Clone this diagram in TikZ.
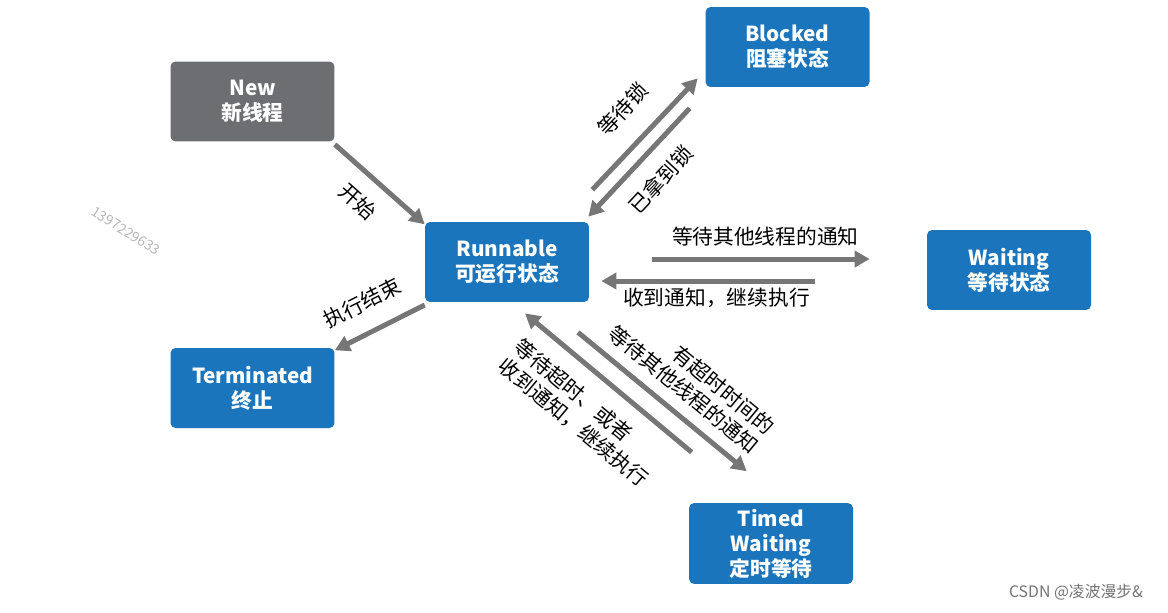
\documentclass[tikz,border=0pt]{standalone}
\usepackage{fontspec}
\setmainfont{Noto Sans CJK SC}
\usetikzlibrary{arrows.meta, positioning}

\definecolor{stateblue}{RGB}{27,117,188}
\definecolor{newgray}{RGB}{109,110,113}
\definecolor{arrowgray}{RGB}{118,118,118}

\begin{document}
\begin{tikzpicture}[x=0.02cm, y=-0.02cm, >={Triangle[length=0.3cm, width=0.32cm]},
    thread/.style={fill=stateblue, rounded corners=0.1cm, minimum width=3.28cm, minimum height=1.6cm,
        align=center, text=white, font=\fontsize{11.8}{14.2}\selectfont\bfseries},
    newthread/.style={thread, fill=newgray},
    flow/.style={->, draw=arrowgray, line width=0.1cm},
    note/.style={sloped, inner sep=0pt, text=black, font=\fontsize{11.8}{14}\selectfont}]

    \useasboundingbox (0,0) rectangle (1168,612);

    % states
    \node[newthread] (new) at (252.5,101.5) {New\\新线程};
    \node[thread] (run) at (507,262) {Runnable\\可运行状态};
    \node[thread] (blk) at (787.5,47) {Blocked\\阻塞状态};
    \node[thread] (wait) at (1009,270) {Waiting\\等待状态};
    \node[thread] (term) at (252.5,388) {Terminated\\终止};
    \node[thread] (timed) at (771,543.5) {Timed\\Waiting\\定时等待};

    % transitions
    \draw[flow] ([yshift=-1.5]new.south east) -- node[note, pos=0.46, below, outer ysep=0.35cm] (lstart) {开始} ([yshift=-1.5]run.north west);
    \draw[flow] ([yshift=-1.5]run.south west) -- node[note, pos=0.545, above, outer ysep=0.41cm] (lend) {执行结束} ([yshift=-1.5]term.north east);

    \draw[flow] ([shift={(3,-32)}]run.north east) -- node[note, pos=0.52, above, outer ysep=0.47cm] (llock) {等待锁} ([shift={(-7.5,-9)}]blk.south west);
    \draw[flow] ([shift={(-15.5,21)}]blk.south west) -- node[note, pos=0.485, below, outer ysep=0.35cm] (lgot) {已拿到锁} ([shift={(-1,-5)}]run.north east);

    \draw[flow] ([shift={(63,-3)}]run.east) -- node[note, pos=0.52, above, outer ysep=0.26cm] (lwait) {等待其他线程的通知} ([shift={(-57,-11)}]wait.west);
    \draw[flow] ([shift={(-112,11)}]wait.west) -- node[note, pos=0.46, below, outer ysep=0.15cm] (lnotify) {收到通知，继续执行} ([shift={(12,19)}]run.east);

    \draw[flow] ([shift={(3,-50.5)}]timed.north west) -- node[note, pos=0.506, below, outer ysep=0.37cm, align=left] (lback) {等待超时、或者\\收到通知，继续执行} ([shift={(18,11)}]run.south);
    \draw[flow] ([shift={(71,30)}]run.south) -- node[note, pos=0.538, above, outer ysep=0.27cm, align=right] (ltimed) {有超时时间的\\等待其他线程的通知} ([shift={(58,-31.5)}]timed.north west);

    % watermarks
    \node[rotate=-32, text=black!28, font=\fontsize{8}{9}\selectfont] (wm) at (126,231) {1397229633};
    \node[text=black!55, font=\fontsize{9}{11}\selectfont] (csdn) at (1076,592) {CSDN @凌波漫步\&};
\end{tikzpicture}
\end{document}
